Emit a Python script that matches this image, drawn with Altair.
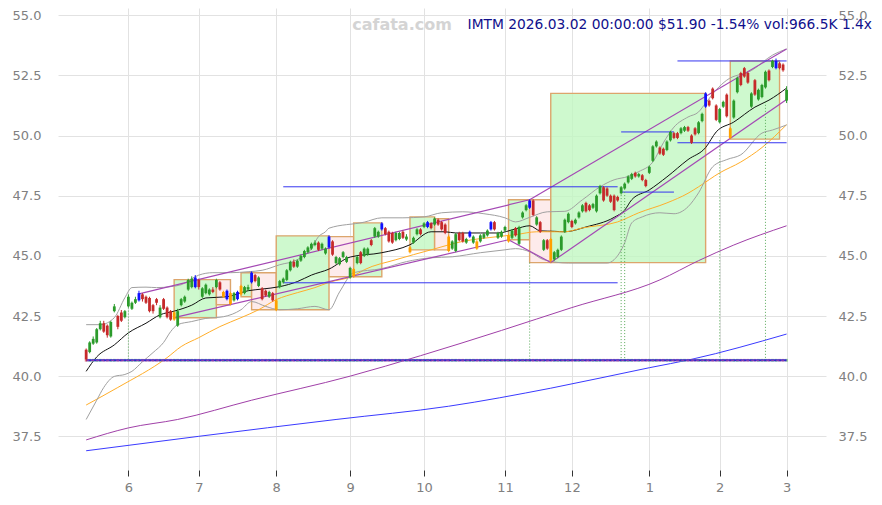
import altair as alt
import pandas as pd

# ---------------- candle data (trading-day index 0..199, 2025-05-14 .. 2026-03-02)
OPEN = [41.10, 41.00, 41.35, 41.40, 41.95, 42.20, 42.10, 41.65, 42.70, 42.50,
        42.65, 42.45, 42.90, 42.80, 43.05, 43.15, 43.40, 43.30, 43.25, 42.95,
        43.20, 42.45, 43.20, 42.85, 42.70, 42.35, 42.10, 42.95, 43.10, 43.60,
        43.70, 43.70, 44.00, 43.30, 43.45, 43.40, 43.60, 43.70, 43.90, 43.30,
        43.20, 43.45, 43.15, 43.20, 43.40, 43.45, 43.60, 43.90, 44.20, 43.75,
        43.65, 43.55, 43.30, 43.45, 43.15, 43.70, 43.90, 44.00, 44.40, 44.75,
        44.55, 44.80, 44.95, 45.15, 45.30, 45.45, 45.55, 45.30, 45.10, 45.35,
        45.60, 44.70, 44.65, 44.95, 44.75, 44.10, 44.15, 44.70, 45.15, 45.00,
        45.05, 45.65, 45.80, 45.80, 46.10, 46.15, 46.00, 45.95, 45.65, 45.70,
        46.00, 45.68, 45.35, 45.55, 45.90, 46.10, 46.20, 46.20, 46.35, 46.30,
        46.50, 46.40, 46.30, 45.80, 45.30, 45.20, 45.95, 45.95, 45.55, 45.80,
        45.55, 45.60, 45.60, 45.75, 45.85, 46.10, 46.40, 45.75, 45.80, 46.05,
        45.60, 45.75, 46.15, 45.50, 46.60, 46.90, 47.00, 47.30, 46.30, 46.40,
        45.25, 45.65, 45.70, 44.85, 44.95, 45.25, 46.00, 46.40, 46.45, 46.35,
        46.60, 46.85, 47.20, 47.10, 47.00, 46.85, 47.60, 47.85, 47.80, 47.50,
        47.50, 47.45, 47.60, 47.80, 48.05, 48.20, 48.45, 48.30, 48.35, 48.15,
        48.45, 48.95, 49.55, 49.50, 49.45, 49.40, 49.80, 50.10, 50.10, 50.10,
        50.20, 50.35, 50.00, 50.30, 50.10, 50.60, 51.20, 51.45, 51.95, 51.25,
        50.55, 51.20, 51.70, 50.30, 50.75, 51.80, 52.60, 52.80, 52.60, 51.20,
        52.30, 51.50, 51.60, 52.00, 52.70, 52.85, 52.80, 53.00, 52.95, 51.45]
CLOSE = [40.70, 41.40, 41.55, 41.95, 42.20, 41.85, 41.70, 42.25, 42.90, 42.05,
         42.30, 42.70, 43.30, 43.05, 43.20, 43.45, 43.20, 43.05, 42.70, 42.70,
         43.05, 42.85, 42.80, 42.45, 42.35, 42.65, 42.70, 43.20, 43.30, 44.00,
         44.05, 44.10, 43.70, 43.65, 43.80, 43.60, 43.50, 44.00, 43.60, 43.50,
         43.55, 43.00, 43.45, 43.50, 43.75, 43.70, 43.70, 44.30, 43.95, 44.10,
         43.20, 43.35, 43.50, 43.15, 42.75, 43.95, 44.05, 44.40, 44.75, 44.55,
         44.80, 45.00, 45.20, 45.35, 45.50, 45.55, 45.25, 45.50, 45.30, 45.80,
         45.05, 44.95, 44.90, 45.15, 44.95, 44.50, 44.45, 44.95, 44.70, 45.30,
         45.30, 45.45, 46.15, 46.00, 46.35, 45.90, 45.60, 45.55, 45.95, 45.95,
         45.75, 45.80, 45.15, 45.75, 46.10, 45.90, 46.35, 46.40, 46.15, 46.55,
         46.30, 46.10, 45.95, 45.20, 45.60, 45.90, 45.65, 45.60, 45.70, 46.00,
         45.80, 45.30, 45.85, 45.90, 46.05, 46.40, 46.10, 45.95, 46.00, 46.20,
         45.85, 46.05, 45.85, 46.20, 46.80, 47.10, 47.30, 46.70, 46.60, 46.00,
         45.65, 45.30, 44.80, 45.15, 45.25, 45.80, 46.50, 46.75, 46.20, 46.50,
         46.80, 47.10, 46.85, 46.90, 47.15, 47.50, 47.90, 47.30, 47.50, 47.25,
         46.90, 47.30, 47.85, 48.00, 48.30, 48.40, 48.30, 48.40, 48.15, 47.90,
         48.70, 49.55, 49.75, 49.25, 49.20, 49.75, 50.15, 49.90, 49.90, 50.30,
         50.35, 50.20, 49.70, 50.05, 50.55, 50.90, 51.75, 51.25, 51.55, 50.65,
         51.10, 51.40, 50.80, 49.90, 51.45, 52.40, 52.10, 52.45, 52.20, 51.75,
         51.70, 51.90, 52.10, 52.65, 52.30, 53.10, 53.10, 52.80, 52.71, 51.90]
HIGH = [41.15, 41.45, 41.65, 42.00, 42.30, 42.30, 42.15, 42.30, 43.00, 42.55,
        42.75, 42.75, 43.40, 43.10, 43.30, 43.55, 43.45, 43.35, 43.30, 43.00,
        43.25, 42.95, 43.25, 42.90, 42.75, 42.70, 42.80, 43.25, 43.35, 44.05,
        44.15, 44.20, 44.05, 43.70, 43.85, 43.65, 43.70, 44.05, 43.95, 43.55,
        43.60, 43.50, 43.50, 43.55, 43.80, 43.75, 43.80, 44.35, 44.25, 44.15,
        43.70, 43.60, 43.55, 43.50, 43.20, 44.00, 44.10, 44.45, 44.80, 44.85,
        44.85, 45.05, 45.25, 45.40, 45.55, 45.65, 45.60, 45.55, 45.35, 45.85,
        45.65, 45.00, 44.95, 45.20, 45.00, 44.55, 44.50, 45.00, 45.20, 45.35,
        45.35, 45.70, 46.20, 46.05, 46.40, 46.20, 46.05, 46.00, 46.00, 46.00,
        46.05, 45.90, 45.40, 45.80, 46.15, 46.15, 46.40, 46.45, 46.40, 46.60,
        46.55, 46.45, 46.35, 45.85, 45.65, 45.95, 46.00, 46.00, 45.75, 46.05,
        45.85, 45.65, 45.90, 45.95, 46.10, 46.45, 46.45, 46.00, 46.05, 46.25,
        45.90, 46.10, 46.20, 46.25, 46.85, 47.15, 47.35, 47.35, 46.65, 46.45,
        45.70, 45.70, 45.75, 45.20, 45.30, 45.85, 46.55, 46.80, 46.50, 46.55,
        46.85, 47.15, 47.25, 47.15, 47.20, 47.55, 47.95, 47.90, 47.85, 47.55,
        47.55, 47.50, 47.90, 48.05, 48.35, 48.45, 48.50, 48.45, 48.40, 48.20,
        48.75, 49.60, 49.80, 49.55, 49.50, 49.80, 50.20, 50.15, 50.15, 50.35,
        50.40, 50.40, 50.05, 50.35, 50.60, 50.95, 51.80, 51.50, 52.00, 51.30,
        51.15, 51.45, 51.75, 50.35, 51.50, 52.45, 52.65, 52.85, 52.65, 51.80,
        52.35, 51.95, 52.15, 52.70, 52.75, 53.15, 53.20, 53.05, 53.00, 52.05]
LOW = [40.62, 40.95, 41.30, 41.35, 41.90, 41.80, 41.60, 41.60, 42.65, 41.95,
       42.25, 42.40, 42.85, 42.75, 43.00, 43.10, 43.10, 43.00, 42.65, 42.60,
       42.95, 42.40, 42.75, 42.40, 42.30, 42.30, 42.05, 42.90, 43.05, 43.55,
       43.65, 43.65, 43.60, 43.25, 43.40, 43.35, 43.45, 43.65, 43.55, 43.25,
       43.15, 42.95, 43.10, 43.15, 43.35, 43.40, 43.55, 43.85, 43.90, 43.70,
       43.15, 43.30, 43.25, 43.10, 42.70, 43.65, 43.85, 43.95, 44.35, 44.50,
       44.50, 44.75, 44.90, 45.10, 45.25, 45.40, 45.20, 45.25, 45.05, 45.30,
       45.00, 44.65, 44.60, 44.90, 44.70, 44.05, 44.10, 44.65, 44.65, 44.95,
       45.00, 45.40, 45.75, 45.75, 46.05, 45.85, 45.55, 45.50, 45.60, 45.65,
       45.70, 45.62, 45.10, 45.50, 45.85, 45.85, 46.15, 46.15, 46.10, 46.25,
       46.25, 46.05, 45.90, 45.15, 45.25, 45.15, 45.60, 45.55, 45.50, 45.75,
       45.50, 45.25, 45.55, 45.70, 45.80, 46.05, 46.05, 45.70, 45.75, 46.00,
       45.55, 45.70, 45.80, 45.45, 46.55, 46.85, 46.95, 46.65, 46.25, 45.95,
       45.20, 45.25, 44.72, 44.80, 44.90, 45.20, 45.95, 46.35, 46.15, 46.30,
       46.55, 46.80, 46.80, 46.85, 46.95, 46.80, 47.55, 47.25, 47.45, 47.20,
       46.85, 47.25, 47.55, 47.75, 48.00, 48.15, 48.25, 48.25, 48.10, 47.85,
       48.40, 48.90, 49.50, 49.20, 49.15, 49.35, 49.75, 49.85, 49.85, 50.05,
       50.15, 50.15, 49.65, 50.00, 50.05, 50.55, 51.15, 51.20, 51.50, 50.60,
       50.50, 51.15, 50.75, 49.85, 50.70, 51.75, 52.05, 52.40, 52.15, 51.15,
       51.65, 51.45, 51.55, 51.95, 52.25, 52.80, 52.75, 52.75, 52.65, 51.35]
# candle colour class: g=up, r=down, b=blue signal, o=orange signal
KIND = ("rggggrrggr" "rggggbrrrr" "rgrrrogggg" "gbrgggrgro" "bogboggbrg"
        "rrgroggggr" "ggggggrggb" "rgggggogrg" "grggbrrrgg" "rgoggrgbrg"
        "rrroggrrgb" "gogggbrggg" "ogrgggbrgr" "grogggggrg" "ggrrgggrrr"
        "rrggggrgrr" "gggrrggrrg" "grrrggbrrr" "ggroggrrrg" "rgggrgbrrg")

MONTH_TICKS = [12, 32, 54, 75, 96, 119, 138, 160, 180, 199]
MONTH_LABELS = ["6", "7", "8", "9", "10", "11", "12", "1", "2", "3"]
Y_TICKS = [37.5, 40.0, 42.5, 45.0, 47.5, 50.0, 52.5, 55.0]

# ---------------- indicator lines (index, value)
MA20_I = [0, 3, 8, 12, 17, 21, 25, 30, 34, 40, 46, 50, 55, 60, 64, 69, 75, 84, 92, 98,
          102, 105, 112, 117, 122, 126, 129, 133, 136, 142, 150, 153, 155, 160, 165,
          171, 176, 179, 184, 190, 194, 199]
MA20_V = [40.2, 40.8, 41.3, 41.8, 42.2, 42.55, 42.7, 42.95, 43.25, 43.3, 43.55, 43.62,
          43.72, 43.93, 44.2, 44.45, 44.95, 45.13, 45.46, 46.0, 46.0, 45.95, 45.95,
          45.95, 46.12, 46.25, 46.04, 46.02, 46.0, 46.2, 46.6, 46.9, 47.33, 47.74,
          48.28, 49.0, 49.5, 50.15, 50.56, 51.18, 51.47, 51.97]
MA50_I = [0, 9, 23, 27, 32, 38, 44, 49, 54, 60, 65, 69, 76, 79, 88, 98, 107, 117, 122,
          128, 136, 141, 151, 157, 165, 171, 174, 180, 186, 192, 199]
MA50_V = [38.8, 39.53, 40.77, 41.23, 41.6, 42.06, 42.43, 42.76, 43.18, 43.47, 43.68,
          43.9, 44.17, 44.42, 44.84, 45.25, 45.6, 45.8, 45.88, 46.0, 46.0, 46.16, 46.41,
          46.79, 47.2, 47.6, 47.87, 48.45, 48.9, 49.5, 50.45]
BBU_I = [0, 4, 8, 11, 13, 17, 20, 24, 27, 32, 36, 41, 46, 50, 55, 60, 64, 66, 68, 69,
         79, 84, 90, 96, 101, 107, 113, 119, 122, 126, 131, 136, 141, 146, 150, 154,
         157, 161, 164, 167, 171, 174, 176, 179, 182, 189, 195, 199]
BBU_V = [42.14, 42.14, 42.43, 43.26, 43.68, 43.7, 43.68, 43.72, 43.8, 44.2, 44.3, 44.3,
         44.34, 44.4, 44.63, 44.84, 45.3, 45.8, 46.0, 46.15, 46.4, 46.58, 46.58, 46.62,
         46.79, 46.83, 46.75, 46.58, 46.41, 46.6, 46.83, 46.85, 47.33, 47.87, 48.16,
         48.3, 48.5, 48.9, 49.7, 50.35, 50.77, 50.98, 51.35, 51.9, 52.3, 52.7, 53.34, 53.6]
BBL_I = [0, 3, 5, 8, 11, 13, 16, 19, 22, 24, 26, 30, 34, 39, 44, 47, 51, 55, 60, 65,
         69, 72, 76, 84, 91, 98, 104, 112, 119, 122, 126, 130, 137, 148, 150, 153, 155,
         158, 163, 167, 171, 174, 178, 182, 186, 192, 195, 199]
BBL_V = [38.2, 39.0, 39.53, 39.99, 40.07, 40.2, 40.6, 40.98, 41.4, 41.85, 42.14, 42.27,
         42.4, 42.47, 42.76, 43.1, 42.9, 42.76, 42.8, 42.9, 42.76, 43.5, 44.3, 44.47,
         44.76, 44.92, 44.96, 45.13, 45.25, 45.3, 45.17, 44.84, 44.7, 44.7, 44.84,
         45.54, 46.37, 46.62, 46.79, 46.75, 47.04, 47.62, 48.7, 49.0, 49.2, 50.1, 50.23,
         50.44]
MA100_I = [0, 12, 26, 47, 75, 95, 118, 138, 163, 174, 184, 199]
MA100_V = [37.35, 37.85, 38.2, 39.0, 40.0, 40.85, 41.9, 42.85, 44.0, 44.8, 45.45, 46.25]
MA200_I = [0, 32, 71, 103, 132, 160, 172, 199]
MA200_V = [36.9, 37.5, 38.2, 38.75, 39.5, 40.35, 40.7, 41.75]

# trend channel segments (start idx, start val, end idx, end val)
CH_X1 = [15, 25, 120, 126, 132]
CH_Y1 = [43.42, 42.43, 45.67, 47.33, 44.72]
CH_X2 = [126, 120, 132, 199, 199]
CH_Y2 = [47.33, 45.67, 44.72, 53.6, 51.5]

# horizontal support / resistance lines
HL_X1 = [56, 56, 152, 152, 168, 168]
HL_X2 = [151, 151, 167, 167, 199, 199]
HL_V = [47.87, 43.88, 47.65, 50.15, 49.7, 53.1]

# consolidation boxes
BOX_X1 = [25, 37, 44, 47, 54, 69, 76, 92, 99, 120, 126, 132, 183]
BOX_X2 = [37, 41, 47, 54, 69, 76, 84, 99, 103, 126, 132, 176, 197]
BOX_LO = [42.43, 42.97, 43.30, 42.76, 42.76, 44.13, 44.13, 45.25, 45.25, 45.67, 44.72, 44.72, 49.85]
BOX_HI = [44.01, 44.01, 44.30, 44.30, 45.83, 45.80, 46.37, 46.62, 46.54, 47.33, 47.33, 51.75, 53.10]
BOX_KIND = ["g", "p", "g", "p", "g", "p", "g", "g", "p", "g", "p", "g", "g"]

# green dotted signal lines (index, top value)
SIG_I = [12, 126, 152, 153, 180, 193]
SIG_TOP = [42.85, 44.72, 47.65, 47.65, 49.8, 51.4]
BASE_LEVEL = 40.66

TITLE = "IMTM 2026.03.02 00:00:00 $51.90 -1.54% vol:966.5K 1.4x"
WATERMARK = "cafata.com"

# ---------------- build tables
n = len(CLOSE)
df = pd.DataFrame({"i": list(range(n)), "o": OPEN, "c": CLOSE, "h": HIGH, "l": LOW,
                   "k": list(KIND[:n])})
df["up"] = ["u" if c >= o else "d" for o, c in zip(OPEN, CLOSE)]
df["base"] = BASE_LEVEL

lines = []
for name, xs, vs in [("ma20", MA20_I, MA20_V), ("ma50", MA50_I, MA50_V),
                     ("bbu", BBU_I, BBU_V), ("bbl", BBL_I, BBL_V),
                     ("ma100", MA100_I, MA100_V), ("ma200", MA200_I, MA200_V)]:
    lines.append(pd.DataFrame({"name": name, "i": xs, "v": vs}))
lines_df = pd.concat(lines, ignore_index=True)

ch_df = pd.DataFrame({"x1": CH_X1, "y1": CH_Y1, "x2": CH_X2, "y2": CH_Y2})
hl_df = pd.DataFrame({"x1": HL_X1, "x2": HL_X2, "v": HL_V})
box_df = pd.DataFrame({"x1": BOX_X1, "x2": BOX_X2, "lo": BOX_LO, "hi": BOX_HI, "k": BOX_KIND})
sig_df = pd.DataFrame({"i": SIG_I, "top": SIG_TOP, "base": [BASE_LEVEL] * len(SIG_I)})
base_df = pd.DataFrame({"x1": [0], "x2": [n - 1], "v": [BASE_LEVEL]})

XS = alt.Scale(domain=[-8, 210.2], nice=False, zero=False, padding=0)
YS = alt.Scale(domain=[36.1, 55.3], nice=False, zero=False, padding=0)
FONT = "DejaVu Sans"
GRID = "#e2e2e2"
LABEL = "#808080"

label_expr = "[" + ",".join(f"'{m}'" for m in MONTH_LABELS) + "][indexof([" + \
    ",".join(str(t) for t in MONTH_TICKS) + "], datum.value)]"

X_AXIS = dict(values=MONTH_TICKS, labelExpr=label_expr, grid=True, gridColor=GRID,
              domain=False, ticks=True, tickColor="#333333", tickSize=6,
              labelColor=LABEL, labelFont=FONT, labelFontSize=13, labelPadding=5,
              title=None)
y_left = alt.Axis(values=Y_TICKS, format=".1f", grid=True, gridColor=GRID, domain=False,
                  ticks=False, labelColor=LABEL, labelFont=FONT, labelFontSize=13,
                  labelPadding=17, title=None, orient="left")
y_right = alt.Axis(values=Y_TICKS, format=".1f", grid=False, domain=False, ticks=False,
                   labelColor=LABEL, labelFont=FONT, labelFontSize=13, labelPadding=12,
                   title=None, orient="right")


def X(f):
    return alt.X(f, type="quantitative", scale=XS, axis=alt.Axis(**X_AXIS))


def Y(f):
    return alt.Y(f, type="quantitative", scale=YS, axis=None)


base = alt.Chart(df)

axis_l = base.mark_point(opacity=0).encode(
    x=X("i"), y=alt.Y("c:Q", scale=YS, axis=y_left))
axis_r = base.mark_point(opacity=0).encode(
    x=X("i"), y=alt.Y("c:Q", scale=YS, axis=y_right))

boxes = alt.Chart(box_df).mark_rect(stroke="#dca56c", strokeWidth=1.4, fillOpacity=0.8).encode(
    x=X("x1"), x2="x2", y=Y("lo"), y2="hi",
    fill=alt.Fill("k:N", scale=alt.Scale(domain=["g", "p"], range=["#c2f8c2", "#fde6e6"]),
                  legend=None))

line_colors = alt.Scale(domain=["ma20", "ma50", "bbu", "bbl", "ma100", "ma200"],
                        range=["#111111", "#ffae2a", "#a0a0a0", "#a0a0a0", "#a040a8", "#3a3aff"])
ma_lines = alt.Chart(lines_df).mark_line(strokeWidth=1, interpolate="monotone").encode(
    x=X("i"), y=Y("v"), detail="name:N",
    color=alt.Color("name:N", scale=line_colors, legend=None))

channels = alt.Chart(ch_df).mark_rule(color="#a448b4", strokeWidth=1.2).encode(
    x=X("x1"), y=Y("y1"), x2="x2", y2="y2")

hlines = alt.Chart(hl_df).mark_rule(color="#3535f0", strokeWidth=1).encode(
    x=X("x1"), x2="x2", y=Y("v"))

sigs = alt.Chart(sig_df).mark_rule(color="#5aaa5a", strokeWidth=1, strokeDash=[1, 2]).encode(
    x=X("i"), y=Y("top"), y2="base")

vol = base.mark_square(size=8, opacity=0.9).encode(
    x=X("i"), y=Y("base"),
    color=alt.Color("up:N", scale=alt.Scale(domain=["u", "d"], range=["#8fc98f", "#e59aa8"]),
                    legend=None))
base_blue = alt.Chart(base_df).mark_rule(color="#2a2ad0", strokeWidth=2).encode(
    x=X("x1"), x2="x2", y=Y("v"))
base_purple = alt.Chart(base_df).mark_rule(color="#a040a8", strokeWidth=1, strokeDash=[3, 2]).encode(
    x=X("x1"), x2="x2", y=Y("v"))

kcol = alt.Scale(domain=["g", "r", "b", "o"], range=["#2b9b2b", "#c62a2a", "#1010ff", "#ffa000"])
wicks = base.mark_rule(strokeWidth=1).encode(
    x=X("i"), y=Y("l"), y2="h", color=alt.Color("k:N", scale=kcol, legend=None))
bodies = base.mark_bar(size=2.8).encode(
    x=X("i"), y=Y("o"), y2="c", color=alt.Color("k:N", scale=kcol, legend=None))

wm = alt.Chart(pd.DataFrame({"t": [WATERMARK]})).mark_text(
    font=FONT, fontSize=16, fontWeight="bold", color="#d4d4d4", align="center",
    baseline="middle").encode(x=alt.value(344), y=alt.value(17), text="t:N")
title = alt.Chart(pd.DataFrame({"t": [TITLE]})).mark_text(
    font=FONT, fontSize=13.8, color="#10108c", align="right", baseline="middle").encode(
    x=alt.value(814), y=alt.value(17), text="t:N")

chart = alt.layer(
    axis_l, axis_r, boxes, ma_lines, channels, hlines, sigs, vol, base_blue, base_purple,
    wicks, bodies, wm, title
).resolve_scale(color="independent").resolve_axis(y="independent").properties(
    width=768, height=462,
    padding={"left": 50, "top": 0, "right": 48, "bottom": 27},
    autosize=alt.AutoSizeParams(type="none"),
).configure_view(strokeWidth=0)

chart.save("out.html", embed_options={"renderer": "svg", "actions": False})
